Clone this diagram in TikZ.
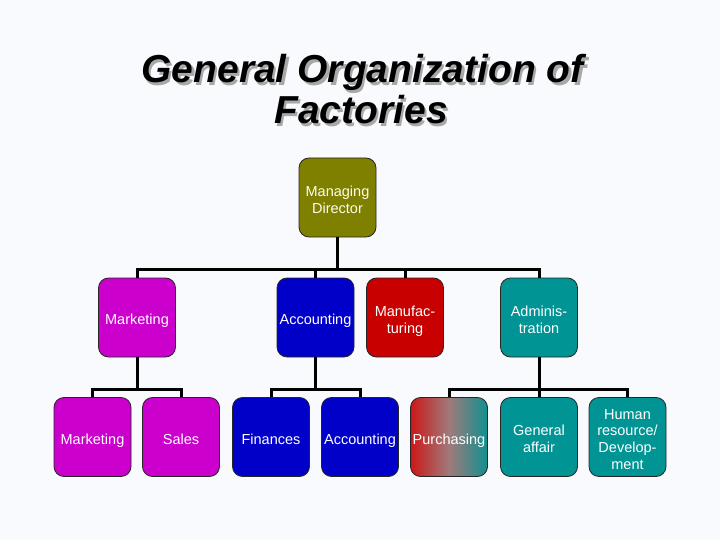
\documentclass[tikz,border=0pt]{standalone}
\usepackage{fontspec}
\setmainfont{Liberation Sans}
\definecolor{bgc}{HTML}{F8FAFE}
\definecolor{olivec}{HTML}{7F7F00}
\definecolor{magc}{HTML}{CC00CC}
\definecolor{bluec}{HTML}{0000C8}
\definecolor{redc}{HTML}{C80000}
\definecolor{tealc}{HTML}{009494}
\definecolor{gradred}{HTML}{CC1818}
\definecolor{gradmid}{HTML}{A07A7A}
\definecolor{gradteal}{HTML}{109090}
\definecolor{shadowc}{HTML}{A8A8A8}
\newcommand{\bt}[1]{\smash{\raisebox{-7.5pt}{\begin{tabular}{@{}c@{}}#1\end{tabular}}}}
\begin{document}
\begin{tikzpicture}[x=1pt,y=-1pt,
  box/.style={draw=black!85,line width=0.8pt,rounded corners=10pt,
    minimum width=77pt,minimum height=79pt,inner sep=0pt,
    text=white,font=\fontsize{14.5}{16.8}\selectfont},
  conn/.style={draw=black,line width=3pt},
  ttl/.style={font=\fontsize{39}{42}\selectfont\bfseries\itshape,anchor=base,inner sep=0pt}]
\useasboundingbox[fill=bgc] (0,0) rectangle (720,540);
% title
\node[ttl,text=shadowc] (t1s) at (365,85.5) {General Organization of};
\node[ttl,text=shadowc] (t2s) at (363.5,126.5) {Factories};
\node[ttl,text=black] (t1) at (362.5,83) {General Organization of};
\node[ttl,text=black] (t2) at (361,124) {Factories};
% level 1
\node[box,fill=olivec,text=white!92!yellow] (md) at (337.5,197.5) {\bt{Managing\\Director}};
% level 2
\node[box,fill=magc] (mk) at (137,317.5) {\bt{Marketing}};
\node[box,fill=bluec] (ac) at (315.5,317.5) {\bt{Accounting}};
\node[box,fill=redc] (mf) at (405,317.5) {\bt{Manufac-\\turing}};
\node[box,fill=tealc] (ad) at (539,317.5) {\bt{Adminis-\\tration}};
% level 3
\node[box,fill=magc] (mk3) at (92.5,437) {\bt{Marketing}};
\node[box,fill=magc] (sa) at (181,437) {\bt{Sales}};
\node[box,fill=bluec] (fi) at (271,437) {\bt{Finances}};
\node[box,fill=bluec] (ac3) at (360,437) {\bt{Accounting}};
\node[box,left color=gradred,right color=gradteal,middle color=gradmid] (pu) at (449,437) {\bt{Purchasing}};
\node[box,fill=tealc] (ga) at (539,437) {\bt{General\\affair}};
\node[box,fill=tealc] (hr) at (627.5,437) {\bt{Human\\resource/\\Develop-\\ment}};
% connectors
\coordinate (b1) at (337.5,269);
\draw[conn] (md.south) -- (b1);
\draw[conn] (mk.north) |- (b1) -| (ad.north);
\draw[conn] (ac.north) -- (ac.north |- b1);
\draw[conn] (mf.north) -- (mf.north |- b1);
\coordinate (b2) at (137,389);
\draw[conn] (mk.south) -- (b2);
\draw[conn] (mk3.north) |- (b2) -| (sa.north);
\coordinate (b3) at (315.5,389);
\draw[conn] (ac.south) -- (b3);
\draw[conn] (fi.north) |- (b3) -| (ac3.north);
\coordinate (b4) at (539,389);
\draw[conn] (ad.south) -- (b4);
\draw[conn] (pu.north) |- (b4) -| (hr.north);
\draw[conn] (ga.north) -- (ga.north |- b4);
\end{tikzpicture}
\end{document}
